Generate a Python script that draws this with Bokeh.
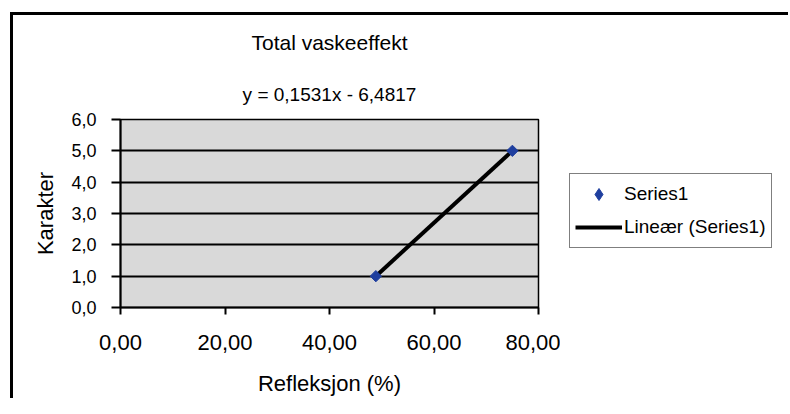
import numpy as np
from bokeh.plotting import figure
from bokeh.layouts import row
from bokeh.models import Range1d, FixedTicker, Legend, LegendItem, Title
from bokeh.embed import file_html
from bokeh.resources import INLINE

# ---- data ----
refleksjon = [48.87, 75.00]
karakter = [1.0, 5.0]
x_ticks = [0, 20, 40, 60, 80]
x_tick_labels = ["0,00", "20,00", "40,00", "60,00", "80,00"]
y_ticks = [0, 1, 2, 3, 4, 5, 6]
y_tick_labels = ["0,0", "1,0", "2,0", "3,0", "4,0", "5,0", "6,0"]
title_text = "Total vaskeeffekt"
equation_text = "y = 0,1531x - 6,4817"
x_label = "Refleksjon (%)"
y_label = "Karakter"
series_label = "Series1"
trend_label = "Lineær (Series1)"

# linear trend line (least squares through the series)
slope, intercept = np.polyfit(refleksjon, karakter, 1)
trend_x = [min(refleksjon), max(refleksjon)]
trend_y = [slope * v + intercept for v in trend_x]

FONT = "Liberation Sans"
MARKER_COLOR = "#1f3f9f"

p = figure(width=560, height=398, output_backend="svg", toolbar_location=None,
           x_range=Range1d(x_ticks[0], x_ticks[-1]), y_range=Range1d(y_ticks[0], y_ticks[-1]),
           min_border_left=120, min_border_right=22, min_border_top=119, min_border_bottom=91,
           title=None)

p.background_fill_color = "#d9d9d9"
p.border_fill_color = "white"
p.outline_line_color = "black"
p.outline_line_width = 1.5

# grid
p.xgrid.grid_line_color = None
p.ygrid.grid_line_color = "black"
p.ygrid.grid_line_width = 2
p.ygrid.ticker = FixedTicker(ticks=y_ticks)

# axes
for ax in (p.xaxis[0], p.yaxis[0]):
    ax.axis_line_color = "black"
    ax.axis_line_width = 2
    ax.major_tick_line_color = "black"
    ax.major_tick_line_width = 2
    ax.major_tick_in = 0
    ax.minor_tick_line_color = None
    ax.major_label_text_font = FONT
    ax.major_label_text_color = "black"
    ax.axis_label_text_font = FONT
    ax.axis_label_text_font_style = "normal"
    ax.axis_label_text_color = "black"
    ax.axis_label_text_font_size = "22px"

p.xaxis.ticker = FixedTicker(ticks=x_ticks)
p.xaxis.major_label_overrides = {t: l for t, l in zip(x_ticks, x_tick_labels)}
p.xaxis.major_tick_out = 7
p.xaxis.major_label_standoff = 20
p.xaxis.major_label_text_font_size = "22px"
p.xaxis.axis_label = x_label
p.xaxis.axis_label_standoff = 18

p.yaxis.ticker = FixedTicker(ticks=y_ticks)
p.yaxis.major_label_overrides = {t: l for t, l in zip(y_ticks, y_tick_labels)}
p.yaxis.major_tick_out = 9
p.yaxis.major_label_standoff = 15
p.yaxis.major_label_text_font_size = "18px"
p.yaxis.axis_label = y_label
p.yaxis.axis_label_standoff = 10

# titles (first added sits nearest the plot area)
p.add_layout(Title(text=equation_text, align="center", text_font=FONT, text_font_size="19px",
                   text_font_style="normal", text_color="black", standoff=30), "above")
p.add_layout(Title(text=title_text, align="center", text_font=FONT, text_font_size="21px",
                   text_font_style="normal", text_color="black", standoff=25), "above")

# data
trend = p.line(trend_x, trend_y, line_color="black", line_width=4)
pts = p.scatter(refleksjon, karakter, marker="square", angle=np.pi / 4, size=8,
                fill_color=MARKER_COLOR, line_color=MARKER_COLOR)

# legend panel (separate canvas so the box can sit outside the plot area)
lg = figure(width=214, height=398, output_backend="svg", toolbar_location=None,
            x_axis_location=None, y_axis_location=None, min_border=0,
            x_range=Range1d(200, 201), y_range=Range1d(200, 201), title=None)
lg.outline_line_color = None
lg.background_fill_color = "white"
lg.border_fill_color = "white"
lg.grid.visible = False
lg_trend = lg.line(trend_x, trend_y, line_color="black", line_width=4)
lg_pts = lg.scatter(refleksjon, karakter, marker="diamond", size=13,
                    fill_color=MARKER_COLOR, line_color=MARKER_COLOR)

legend = Legend(items=[LegendItem(label=series_label, renderers=[lg_pts]),
                       LegendItem(label=trend_label, renderers=[lg_trend])],
                location=(9, 59), orientation="vertical",
                label_text_font=FONT, label_text_font_size="19px", label_text_color="black",
                glyph_width=47, glyph_height=30, label_height=30, label_standoff=2,
                spacing=3, padding=5, margin=0,
                border_line_color="black", border_line_width=1.5,
                background_fill_color="white", background_fill_alpha=1)
lg.add_layout(legend, "center")

layout = row(p, lg, spacing=0, stylesheets=[
    ":host { position: relative; }"
    ":host::after { content: ''; position: absolute; left: 10px; top: 12px; right: -14px; bottom: 0;"
    " border-left: 3px solid black; border-top: 3px solid black; pointer-events: none; z-index: 10; }"
])

open("out.html", "w").write(file_html(layout, INLINE))
